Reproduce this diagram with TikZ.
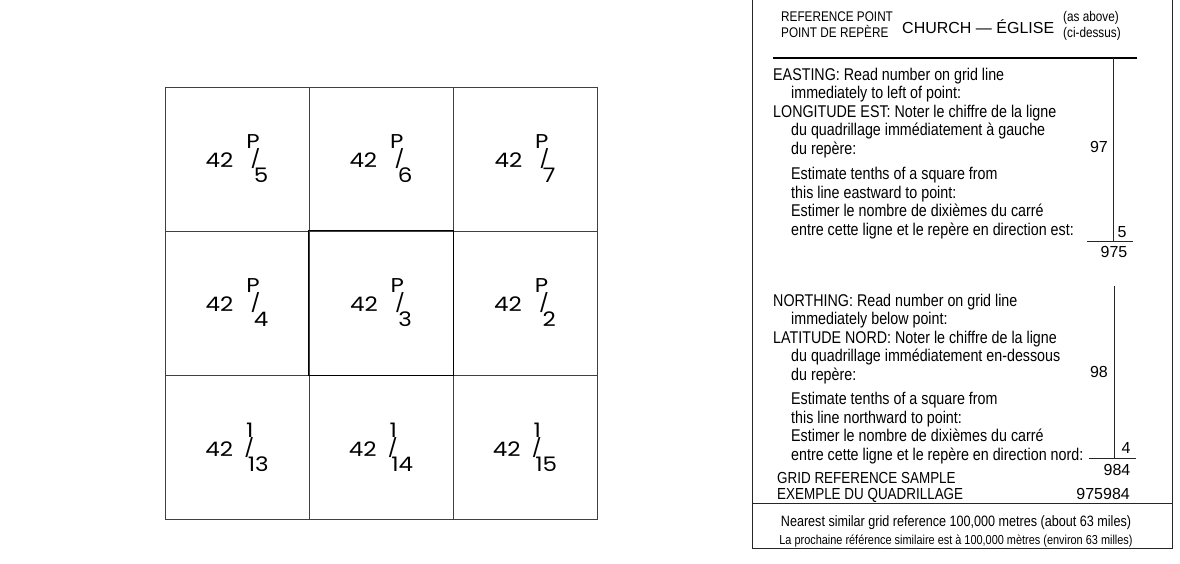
\documentclass[tikz,border=0pt]{standalone}
\usepackage{fontspec}
\setmainfont{Liberation Sans}
\newfontfamily\condfont{Liberation Sans}[FakeStretch=0.84]
\newfontfamily\gridfont{Poppins}[FakeStretch=1.15]
\usetikzlibrary{positioning,calc}

% map sheet number: 42 P/5
\newcommand\sheetlbl[3]{#1\kern13pt\raisebox{19pt}{#2}\kern-9pt\raisebox{2pt}{\fontsize{18}{18}\selectfont/}\kern-6.5pt\raisebox{-15pt}{#3}}

\begin{document}
\begin{tikzpicture}[x=1pt, y=-1pt,
    cell/.style={draw=black!75, line width=0.7pt, minimum width=144pt, minimum height=144pt, inner sep=0pt, font=\gridfont\fontsize{20}{20}\selectfont},
    hdr/.style={inner sep=0pt, align=left, font=\condfont\fontsize{14}{16}\selectfont},
    txt/.style={anchor=north west, inner sep=0pt, align=left, font=\condfont\fontsize{17}{18.6}\selectfont},
    num/.style={inner sep=0pt, font=\fontsize{16}{16}\selectfont},
    rule/.style={line width=1pt, draw=black!85}
]
    \useasboundingbox (0,0) rectangle (1180,563);

    % Grid of map sheets
    \foreach \lbl/\sub/\col/\row [count=\i] in {P/5/0/0, P/6/1/0, P/7/2/0, P/4/0/1, P/3/1/1, P/2/2/1, 1/13/0/2, 1/14/1/2, 1/15/2/2}
        \node[cell] (sheet\i) at ({237+144*\col},{159+144*\row}) {\sheetlbl{42}{\lbl}{\sub}};
    \draw[line width=1.3pt] (sheet5.north west) rectangle (sheet5.south east);

    % Frame of the sample
    \coordinate (boxNW) at (752,-3);
    \coordinate (boxSE) at (1172,548);
    \draw[rule] (boxNW) rectangle (boxSE);
    \coordinate (noteW) at (752,503);
    \coordinate (noteE) at (1172,503);
    \draw[rule] (noteW) -- (noteE);

    % Header
    \node[hdr, anchor=west] (refpt)   at (781,25) {REFERENCE  POINT\\POINT DE REPÈRE};
    \node[inner sep=0pt, anchor=west, font=\fontsize{16}{16}\selectfont] (church) at (902,27) {CHURCH — ÉGLISE};
    \node[hdr, anchor=west] (asabove) at (1063,26) {(as above)\\(ci-dessus)};
    \coordinate (hdrW) at (773,58);
    \coordinate (hdrE) at (1137,58);
    \draw[line width=1.4pt] (hdrW) -- (hdrE);

    % Easting
    \node[txt] (easting) at (773,67.5) {EASTING: Read number on grid line\\
        \hspace*{18pt}immediately to left of point:\\
        LONGITUDE  EST: Noter le chiffre de la ligne\\
        \hspace*{18pt}du quadrillage immédiatement à gauche\\
        \hspace*{18pt}du repère:};
    \node[txt] (eastest) at (791,167) {Estimate tenths of a square from\\
        this line eastward to point:\\
        Estimer le nombre de dixièmes du carré\\
        entre cette ligne et le repère en direction est:};
    \node[num, anchor=east] (eGrid) at (1108,147) {97};
    \coordinate (eTop) at (1113,58);
    \coordinate (eBot) at (1113,241);
    \coordinate (eL) at (1087,241);
    \coordinate (eR) at (1133,241);
    \draw[rule] (eTop) -- (eBot);
    \draw[rule] (eL) -- (eR);
    \node[num] (eTenth) at (1122,232) {5};
    \node[num] (eSum)   at (1114,252) {975};

    % Northing
    \node[txt] (northing) at (773,293.5) {NORTHING: Read number on grid line\\
        \hspace*{18pt}immediately below point:\\
        LATITUDE  NORD: Noter le chiffre de la ligne\\
        \hspace*{18pt}du quadrillage immédiatement en-dessous\\
        \hspace*{18pt}du repère:};
    \node[txt] (northest) at (791,392) {Estimate tenths of a square from\\
        this line northward to point:\\
        Estimer le nombre de dixièmes du carré\\
        entre cette ligne et le repère en direction nord:};
    \node[num, anchor=east] (nGrid) at (1108,372) {98};
    \coordinate (nTop) at (1114,286);
    \coordinate (nBot) at (1114,458);
    \coordinate (nL) at (1089,458);
    \coordinate (nR) at (1136,458);
    \draw[rule] (nTop) -- (nBot);
    \draw[rule] (nL) -- (nR);
    \node[num] (nTenth) at (1126,448) {4};
    \node[num] (nSum)   at (1117,470) {984};

    % Sample result
    \node[txt, font=\condfont\fontsize{16}{16.5}\selectfont] (sample) at (777,472) {GRID  REFERENCE  SAMPLE\\EXEMPLE  DU  QUADRILLAGE};
    \node[num, anchor=east] (result) at (1130,494) {975984};

    % Note
    \node[inner sep=0pt, align=center, font=\condfont\fontsize{15}{18}\selectfont] (note) at (956,531)
        {Nearest similar grid reference 100,000 metres (about 63 miles)\\
         {\fontsize{13}{13}\selectfont La prochaine référence similaire est à 100,000 mètres (environ 63 milles)}};
\end{tikzpicture}
\end{document}
